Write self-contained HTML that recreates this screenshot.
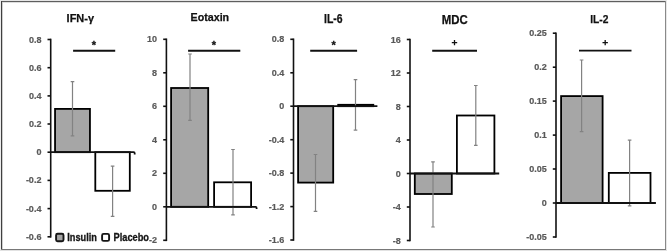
<!DOCTYPE html>
<html><head><meta charset="utf-8"><style>
html,body{margin:0;padding:0;background:#fff;}
body{width:667px;height:251px;overflow:hidden;position:relative;font-family:"Liberation Sans",sans-serif;}
svg{position:absolute;left:0;top:0;will-change:transform;}
.t{font-family:"Liberation Sans",sans-serif;font-weight:bold;font-size:11px;text-anchor:middle;fill:#111;stroke:#111;stroke-width:0.25px;}
.l{font-family:"Liberation Sans",sans-serif;font-weight:bold;font-size:9px;text-anchor:end;fill:#595959;stroke:#595959;stroke-width:0.2px;}
.s{font-family:"Liberation Sans",sans-serif;font-weight:bold;font-size:11px;stroke:#111;stroke-width:0.3px;text-anchor:middle;fill:#111;}
.ax{stroke:#111;stroke-width:1.6;}
.zl{stroke:#111;stroke-width:1.8;}
.lg{font-family:"Liberation Sans",sans-serif;font-weight:bold;font-size:10px;fill:#151515;stroke:#151515;stroke-width:0.3px;}
</style></head><body>
<svg width="667" height="251" viewBox="0 0 667 251">
<rect x="0" y="0" width="667" height="1" fill="#e6e6e6"/>
<rect x="0" y="0" width="1" height="251" fill="#ececec"/>
<rect x="2" y="2" width="663" height="1" fill="#dedede"/>
<rect x="2" y="2" width="1" height="247" fill="#cfcfcf"/>
<rect x="1" y="1" width="665" height="1" fill="#5e5e5e"/>
<rect x="1" y="1" width="1" height="249" fill="#404040"/>
<rect x="666" y="0" width="1" height="251" fill="#e8e8e8"/>
<rect x="665" y="1" width="1" height="249" fill="#8a8a8a"/>
<rect x="1" y="249" width="665" height="1" fill="#787878"/>
<rect x="0" y="250" width="667" height="1" fill="#e2e2e2"/>
<text x="80.3" y="22.3" class="t" style="font-size:11.3px" textLength="27.4" lengthAdjust="spacingAndGlyphs">IFN-γ</text>
<text x="41.4" y="42.5" class="l">0.8</text>
<line x1="47.5" y1="39.5" x2="50.7" y2="39.5" class="ax"/>
<text x="41.4" y="70.7" class="l">0.6</text>
<line x1="47.5" y1="67.7" x2="50.7" y2="67.7" class="ax"/>
<text x="41.4" y="98.9" class="l">0.4</text>
<line x1="47.5" y1="95.9" x2="50.7" y2="95.9" class="ax"/>
<text x="41.4" y="127.0" class="l">0.2</text>
<line x1="47.5" y1="124.0" x2="50.7" y2="124.0" class="ax"/>
<text x="41.4" y="155.2" class="l">0</text>
<line x1="47.5" y1="152.2" x2="50.7" y2="152.2" class="ax"/>
<text x="41.4" y="183.4" class="l">-0.2</text>
<line x1="47.5" y1="180.4" x2="50.7" y2="180.4" class="ax"/>
<text x="41.4" y="211.6" class="l">-0.4</text>
<line x1="47.5" y1="208.6" x2="50.7" y2="208.6" class="ax"/>
<text x="41.4" y="239.8" class="l">-0.6</text>
<line x1="47.5" y1="236.8" x2="50.7" y2="236.8" class="ax"/>
<rect x="55.05" y="108.9" width="34.9" height="43.3" fill="#a6a6a6" stroke="#000" stroke-width="1.8"/>
<rect x="95.3" y="152.2" width="34.5" height="38.6" fill="#fff" stroke="#000" stroke-width="1.8"/>
<path d="M72.5 81.7V135.8M70.7 81.7h3.6M70.7 135.8h3.6" stroke="#828282" stroke-width="1.2" fill="none"/>
<path d="M112.6 166.2V216.3M110.8 166.2h3.6M110.8 216.3h3.6" stroke="#828282" stroke-width="1.2" fill="none"/>
<line x1="50.7" y1="38.7" x2="50.7" y2="237.6" class="ax"/>
<path d="M50.7 152.2 H133.7 q1 0 1 1.2 V154.4" fill="none" class="zl"/>
<line x1="73.1" y1="50.8" x2="115.2" y2="50.8" stroke="#111" stroke-width="1.9"/>
<text x="93.9" y="48.7" class="s">*</text>
<text x="209.85" y="21.4" class="t" style="font-size:11px" textLength="38.6" lengthAdjust="spacingAndGlyphs">Eotaxin</text>
<text x="157.1" y="42.3" class="l">10</text>
<line x1="163.2" y1="39.3" x2="166.4" y2="39.3" class="ax"/>
<text x="157.1" y="75.8" class="l">8</text>
<line x1="163.2" y1="72.8" x2="166.4" y2="72.8" class="ax"/>
<text x="157.1" y="109.3" class="l">6</text>
<line x1="163.2" y1="106.3" x2="166.4" y2="106.3" class="ax"/>
<text x="157.1" y="142.8" class="l">4</text>
<line x1="163.2" y1="139.8" x2="166.4" y2="139.8" class="ax"/>
<text x="157.1" y="176.3" class="l">2</text>
<line x1="163.2" y1="173.3" x2="166.4" y2="173.3" class="ax"/>
<text x="157.1" y="209.8" class="l">0</text>
<line x1="163.2" y1="206.8" x2="166.4" y2="206.8" class="ax"/>
<text x="157.1" y="243.3" class="l">-2</text>
<line x1="163.2" y1="240.3" x2="166.4" y2="240.3" class="ax"/>
<rect x="171.1" y="88.0" width="37.1" height="118.8" fill="#a6a6a6" stroke="#000" stroke-width="1.8"/>
<rect x="214.1" y="182.3" width="37.0" height="24.5" fill="#fff" stroke="#000" stroke-width="1.8"/>
<path d="M190 54V120.4M188.2 54h3.6M188.2 120.4h3.6" stroke="#828282" stroke-width="1.2" fill="none"/>
<path d="M233 149.5V214.8M231.2 149.5h3.6M231.2 214.8h3.6" stroke="#828282" stroke-width="1.2" fill="none"/>
<line x1="166.4" y1="38.5" x2="166.4" y2="241.1" class="ax"/>
<path d="M166.4 206.8 H255.60000000000002 q1 0 1 1.2 V209.0" fill="none" class="zl"/>
<line x1="188.1" y1="50.8" x2="240.3" y2="50.8" stroke="#111" stroke-width="1.9"/>
<text x="214" y="48.7" class="s">*</text>
<text x="333.35" y="23.4" class="t" style="font-size:12px" textLength="18.6" lengthAdjust="spacingAndGlyphs">IL-6</text>
<text x="284.2" y="42.3" class="l">0.8</text>
<line x1="290.3" y1="39.3" x2="293.5" y2="39.3" class="ax"/>
<text x="284.2" y="75.8" class="l">0.4</text>
<line x1="290.3" y1="72.8" x2="293.5" y2="72.8" class="ax"/>
<text x="284.2" y="109.2" class="l">0</text>
<line x1="290.3" y1="106.2" x2="293.5" y2="106.2" class="ax"/>
<text x="284.2" y="142.7" class="l">-0.4</text>
<line x1="290.3" y1="139.7" x2="293.5" y2="139.7" class="ax"/>
<text x="284.2" y="176.1" class="l">-0.8</text>
<line x1="290.3" y1="173.1" x2="293.5" y2="173.1" class="ax"/>
<text x="284.2" y="209.6" class="l">-1.2</text>
<line x1="290.3" y1="206.6" x2="293.5" y2="206.6" class="ax"/>
<text x="284.2" y="243.0" class="l">-1.6</text>
<line x1="290.3" y1="240.0" x2="293.5" y2="240.0" class="ax"/>
<rect x="298.1" y="106.2" width="35.1" height="76.4" fill="#a6a6a6" stroke="#000" stroke-width="1.8"/>
<rect x="338.2" y="104.8" width="35.1" height="1.4" fill="#fff" stroke="#000" stroke-width="1.8"/>
<path d="M315.5 154.5V211.4M313.7 154.5h3.6M313.7 211.4h3.6" stroke="#828282" stroke-width="1.2" fill="none"/>
<path d="M355.5 79.6V130.1M353.7 79.6h3.6M353.7 130.1h3.6" stroke="#828282" stroke-width="1.2" fill="none"/>
<line x1="293.5" y1="38.5" x2="293.5" y2="240.8" class="ax"/>
<path d="M293.5 106.2 H377.4" fill="none" class="zl"/>
<line x1="310.2" y1="50.8" x2="357.1" y2="50.8" stroke="#111" stroke-width="1.9"/>
<text x="333.6" y="48.8" class="s">*</text>
<text x="454.7" y="24.2" class="t" style="font-size:12.2px" textLength="26.0" lengthAdjust="spacingAndGlyphs">MDC</text>
<text x="400.7" y="42.5" class="l">16</text>
<line x1="406.8" y1="39.5" x2="410" y2="39.5" class="ax"/>
<text x="400.7" y="76.0" class="l">12</text>
<line x1="406.8" y1="73.0" x2="410" y2="73.0" class="ax"/>
<text x="400.7" y="109.5" class="l">8</text>
<line x1="406.8" y1="106.5" x2="410" y2="106.5" class="ax"/>
<text x="400.7" y="143.0" class="l">4</text>
<line x1="406.8" y1="140.0" x2="410" y2="140.0" class="ax"/>
<text x="400.7" y="176.5" class="l">0</text>
<line x1="406.8" y1="173.5" x2="410" y2="173.5" class="ax"/>
<text x="400.7" y="210.0" class="l">-4</text>
<line x1="406.8" y1="207.0" x2="410" y2="207.0" class="ax"/>
<text x="400.7" y="243.5" class="l">-8</text>
<line x1="406.8" y1="240.5" x2="410" y2="240.5" class="ax"/>
<rect x="414.8" y="173.5" width="37.0" height="20.5" fill="#a6a6a6" stroke="#000" stroke-width="1.8"/>
<rect x="456.9" y="115.5" width="37.5" height="58.0" fill="#fff" stroke="#000" stroke-width="1.8"/>
<path d="M433 161.9V227M431.2 161.9h3.6M431.2 227h3.6" stroke="#828282" stroke-width="1.2" fill="none"/>
<path d="M475.8 85.5V145.3M474.0 85.5h3.6M474.0 145.3h3.6" stroke="#828282" stroke-width="1.2" fill="none"/>
<line x1="410" y1="38.7" x2="410" y2="241.3" class="ax"/>
<path d="M410 173.5 H499.2" fill="none" class="zl"/>
<line x1="432.2" y1="50.8" x2="477" y2="50.8" stroke="#111" stroke-width="1.9"/>
<path d="M451.8 42.6h5.4M454.5 40.0v5.2" stroke="#111" stroke-width="1.3" fill="none"/>
<text x="599.35" y="23.3" class="t" style="font-size:11.8px" textLength="18.2" lengthAdjust="spacingAndGlyphs">IL-2</text>
<text x="546.7" y="36.2" class="l">0.25</text>
<line x1="552.8" y1="33.2" x2="556" y2="33.2" class="ax"/>
<text x="546.7" y="70.2" class="l">0.2</text>
<line x1="552.8" y1="67.2" x2="556" y2="67.2" class="ax"/>
<text x="546.7" y="104.1" class="l">0.15</text>
<line x1="552.8" y1="101.1" x2="556" y2="101.1" class="ax"/>
<text x="546.7" y="138.1" class="l">0.1</text>
<line x1="552.8" y1="135.1" x2="556" y2="135.1" class="ax"/>
<text x="546.7" y="172.0" class="l">0.05</text>
<line x1="552.8" y1="169.0" x2="556" y2="169.0" class="ax"/>
<text x="546.7" y="206.0" class="l">0</text>
<line x1="552.8" y1="203.0" x2="556" y2="203.0" class="ax"/>
<text x="546.7" y="240.0" class="l">-0.05</text>
<line x1="552.8" y1="237.0" x2="556" y2="237.0" class="ax"/>
<rect x="561.1" y="96.1" width="41.5" height="106.9" fill="#a6a6a6" stroke="#000" stroke-width="1.8"/>
<rect x="608.8" y="172.9" width="41.7" height="30.1" fill="#fff" stroke="#000" stroke-width="1.8"/>
<path d="M581.6 60V131.7M579.8000000000001 60h3.6M579.8000000000001 131.7h3.6" stroke="#828282" stroke-width="1.2" fill="none"/>
<path d="M629.6 140.2V205.8M627.8000000000001 140.2h3.6M627.8000000000001 205.8h3.6" stroke="#828282" stroke-width="1.2" fill="none"/>
<line x1="556" y1="32.4" x2="556" y2="237.8" class="ax"/>
<path d="M556 203.0 H655.9" fill="none" class="zl"/>
<line x1="579" y1="50.6" x2="631.5" y2="50.6" stroke="#111" stroke-width="1.9"/>
<path d="M602.5 42.7h5.4M605.2 40.1v5.2" stroke="#111" stroke-width="1.3" fill="none"/>
<rect x="56.1" y="233.8" width="7.4" height="7.4" rx="1.5" fill="#a6a6a6" stroke="#151515" stroke-width="1.9"/>
<text x="67.3" y="240.5" class="lg" textLength="29.6" lengthAdjust="spacingAndGlyphs">Insulin</text>
<rect x="102.1" y="233.9" width="7.0" height="7.0" rx="1.5" fill="#fff" stroke="#151515" stroke-width="1.9"/>
<text x="113.5" y="240.6" class="lg" textLength="35.5" lengthAdjust="spacingAndGlyphs">Placebo</text>
</svg>
</body></html>
